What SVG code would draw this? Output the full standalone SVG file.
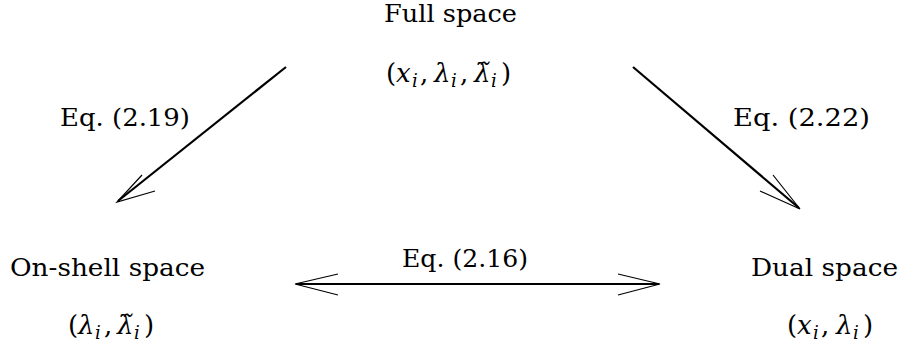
<svg xmlns="http://www.w3.org/2000/svg" width="904" height="351" viewBox="0 0 904 351" font-family="DejaVu Serif, serif">
<style>
text{font-family:"DejaVu Serif",serif;font-size:25px;fill:#000}
.m{font-style:italic;font-size:26px}
.r{font-size:26px}
.s{font-size:18px;font-style:italic}
.shaft{stroke:#000;stroke-width:2.2;fill:none}
.barb{stroke:#000;stroke-width:1.2;fill:none}
</style>
<rect width="904" height="351" fill="#fff"/>
<g id="full">
<text x="384" y="22" textLength="133" lengthAdjust="spacingAndGlyphs">Full space</text>
<text><tspan class="r" x="386" y="82">(</tspan><tspan class="m" x="396" y="82">x</tspan><tspan class="s" x="412" y="87">i</tspan><tspan class="r" x="420" y="82">,</tspan><tspan class="m" x="434" y="82">λ</tspan><tspan class="s" x="451" y="87">i</tspan><tspan class="r" x="460" y="82">,</tspan><tspan class="m" x="474" y="82">λ̃</tspan><tspan class="s" x="491" y="87">i</tspan><tspan class="r" x="501" y="82">)</tspan></text>
</g>
<g id="onshell">
<text x="10" y="276" textLength="195" lengthAdjust="spacingAndGlyphs">On-shell space</text>
<text><tspan class="r" x="68" y="334">(</tspan><tspan class="m" x="78" y="334">λ</tspan><tspan class="s" x="95" y="339">i</tspan><tspan class="r" x="104" y="334">,</tspan><tspan class="m" x="117" y="334">λ̃</tspan><tspan class="s" x="134" y="339">i</tspan><tspan class="r" x="144" y="334">)</tspan></text>
</g>
<g id="dual">
<text x="751" y="276" textLength="147" lengthAdjust="spacingAndGlyphs">Dual space</text>
<text><tspan class="r" x="787" y="334">(</tspan><tspan class="m" x="797" y="334">x</tspan><tspan class="s" x="813" y="339">i</tspan><tspan class="r" x="821" y="334">,</tspan><tspan class="m" x="836" y="334">λ</tspan><tspan class="s" x="853" y="339">i</tspan><tspan class="r" x="863" y="334">)</tspan></text>
</g>
<g id="connectors">
<path class="shaft" d="M286 67 L118 201"/>
<path class="barb" d="M142 175 L117 202 L155 191"/>
<text x="60" y="126" textLength="130" lengthAdjust="spacingAndGlyphs">Eq. (2.19)</text>
<path class="shaft" d="M633 67 L799 208"/>
<path class="barb" d="M773 175 L800 209 L760 191"/>
<text x="733" y="126" textLength="137" lengthAdjust="spacingAndGlyphs">Eq. (2.22)</text>
<path class="shaft" d="M296 284 L659 284"/>
<path class="barb" d="M338 274 L295 284 L338 295 M618 274 L660 284 L618 295"/>
<text x="402" y="267" textLength="126" lengthAdjust="spacingAndGlyphs">Eq. (2.16)</text>
</g>
</svg>
